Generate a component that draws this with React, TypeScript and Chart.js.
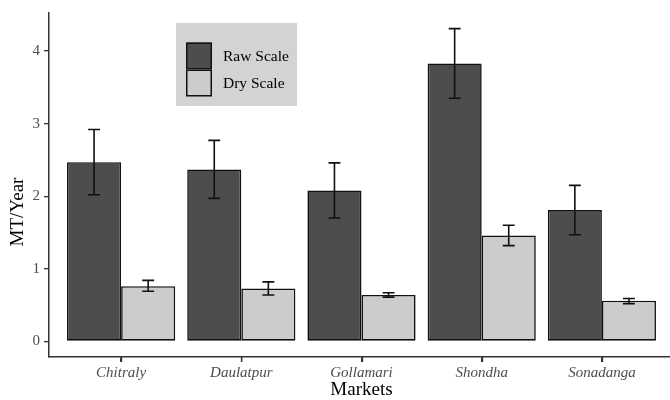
import React, { useEffect, useRef } from "react";
import { Chart, registerables } from "chart.js";

Chart.register(...registerables);

const categories: string[] = ["Chitraly", "Daulatpur", "Gollamari", "Shondha", "Sonadanga"];
const seriesNames: string[] = ["Raw Scale", "Dry Scale"];
const rawValues: number[] = [2.47, 2.37, 2.08, 3.83, 1.81];
const rawUpper: number[] = [2.92, 2.77, 2.46, 4.31, 2.15];
const rawLower: number[] = [2.02, 1.97, 1.70, 3.35, 1.47];
const dryValues: number[] = [0.76, 0.73, 0.64, 1.46, 0.56];
const dryUpper: number[] = [0.84, 0.82, 0.67, 1.60, 0.59];
const dryLower: number[] = [0.69, 0.64, 0.61, 1.32, 0.52];
const yTicks: number[] = [0, 1, 2, 3, 4];
const yTitle = "MT/Year";
const xTitle = "Markets";

const SERIF = "'Liberation Serif', 'Times New Roman', serif";
const AXIS = "#333333";

const errorBarPlugin = {
  id: "errorBars",
  afterDatasetsDraw(chart: any) {
    const ctx = chart.ctx;
    const yScale = chart.scales.y;
    const bounds = [
      [rawLower, rawUpper],
      [dryLower, dryUpper],
    ];
    ctx.save();
    ctx.strokeStyle = "#111111";
    ctx.lineWidth = 1.6;
    chart.data.datasets.forEach((_: any, di: number) => {
      const meta = chart.getDatasetMeta(di);
      meta.data.forEach((el: any, j: number) => {
        const lo = yScale.getPixelForValue(bounds[di][0][j]);
        const hi = yScale.getPixelForValue(bounds[di][1][j]);
        const half = el.width * 0.11;
        ctx.beginPath();
        ctx.moveTo(el.x, lo);
        ctx.lineTo(el.x, hi);
        ctx.moveTo(el.x - half, lo);
        ctx.lineTo(el.x + half, lo);
        ctx.moveTo(el.x - half, hi);
        ctx.lineTo(el.x + half, hi);
        ctx.stroke();
      });
    });
    ctx.restore();
  },
};

const axisExtrasPlugin = {
  id: "axisExtras",
  afterDraw(chart: any) {
    const ctx = chart.ctx;
    const area = chart.chartArea;
    const xScale = chart.scales.x;
    ctx.save();
    ctx.strokeStyle = AXIS;
    ctx.lineWidth = 1.3;
    xScale.ticks.forEach((t: any) => {
      const px = Math.round(xScale.getPixelForValue(t.value)) + 0.5;
      ctx.beginPath();
      ctx.moveTo(px, area.bottom);
      ctx.lineTo(px, area.bottom + 5);
      ctx.stroke();
    });
    ctx.fillStyle = "#000000";
    ctx.font = `19px ${SERIF}`;
    ctx.textAlign = "center";
    ctx.textBaseline = "middle";
    ctx.translate(18, area.top + 199);
    ctx.rotate(-Math.PI / 2);
    ctx.fillText(yTitle, 0, 0);
    ctx.restore();
  },
};

const legendBoxPlugin = {
  id: "legendBox",
  afterDraw(chart: any) {
    const ctx = chart.ctx;
    const area = chart.chartArea;
    const bx = area.left + 127;
    const by = area.top + 10;
    const bw = 121;
    const bh = 83;
    ctx.save();
    ctx.fillStyle = "#d3d3d3";
    ctx.fillRect(bx, by, bw, bh);
    const key = 27;
    const kx = bx + 10;
    const ky = by + 19.5;
    chart.data.datasets.forEach((ds: any, i: number) => {
      const y = ky + i * key;
      ctx.fillStyle = ds.backgroundColor;
      ctx.fillRect(kx, y, 26, key);
      ctx.strokeStyle = "#111111";
      ctx.lineWidth = 1.5;
      ctx.strokeRect(kx + 0.75, y + 0.75, 26 - 1.5, key - 1.5);
      ctx.fillStyle = "#000000";
      ctx.font = `15.5px ${SERIF}`;
      ctx.textBaseline = "middle";
      ctx.textAlign = "left";
      ctx.fillText(ds.label, kx + 37, y + key / 2 + 0.5);
    });
    ctx.restore();
  },
};

export default function App() {
  const canvasRef = useRef<HTMLCanvasElement | null>(null);

  useEffect(() => {
    if (!canvasRef.current) return;
    Chart.defaults.font.family = SERIF;
    const chart = new Chart(canvasRef.current, {
      type: "bar",
      data: {
        datasets: [
          {
            label: seriesNames[0],
            data: categories.map((_, i) => ({ x: i, y: rawValues[i] })),
            backgroundColor: "#4d4d4d",
            borderColor: "#111111",
            borderWidth: 1.6,
            borderSkipped: false,
            categoryPercentage: 0.9,
            barPercentage: 1,
          },
          {
            label: seriesNames[1],
            data: categories.map((_, i) => ({ x: i, y: dryValues[i] })),
            backgroundColor: "#cccccc",
            borderColor: "#111111",
            borderWidth: 1.6,
            borderSkipped: false,
            categoryPercentage: 0.9,
            barPercentage: 1,
          },
        ],
      },
      options: {
        animation: false,
        responsive: true,
        maintainAspectRatio: false,
        layout: { padding: { left: 0, right: 6, top: 13, bottom: 0 } },
        plugins: {
          legend: { display: false },
          tooltip: { enabled: false },
        },
        scales: {
          x: {
            type: "linear",
            min: -0.6,
            max: 4.6,
            offset: false,
            afterBuildTicks: (scale: any) => {
              scale.ticks = categories.map((_, i) => ({ value: i }));
            },
            afterFit: (scale: any) => {
              scale.height = 43;
            },
            ticks: {
              callback: (v: any) => categories[Math.round(Number(v))] ?? "",
              color: "#4d4d4d",
              font: { size: 15, style: "italic", family: SERIF },
              padding: 2,
              maxRotation: 0,
              autoSkip: false,
            },
            grid: {
              display: true,
              offset: false,
              drawOnChartArea: false,
              drawTicks: true,
              tickLength: 5,
              tickColor: AXIS,
              color: AXIS,
              lineWidth: 1.3,
            },
            border: { display: true, color: AXIS, width: 1.5 },
            title: {
              display: true,
              text: xTitle,
              color: "#000000",
              font: { size: 19, family: SERIF, lineHeight: 1.0 },
              padding: { top: 0, bottom: 0 },
            },
          },
          y: {
            min: -0.2155,
            max: 4.5255,
            afterBuildTicks: (scale: any) => {
              scale.ticks = yTicks.map((v) => ({ value: v }));
            },
            afterFit: (scale: any) => {
              scale.width = 49;
            },
            ticks: {
              color: "#4d4d4d",
              font: { size: 15, family: SERIF },
              padding: 4,
            },
            grid: {
              display: true,
              drawOnChartArea: false,
              drawTicks: true,
              tickLength: 5,
              color: AXIS,
              lineWidth: 1.3,
            },
            border: { display: true, color: AXIS, width: 1.5 },
            title: { display: false },
          },
        },
      },
      plugins: [errorBarPlugin, axisExtrasPlugin, legendBoxPlugin],
    } as any);
    return () => chart.destroy();
  }, []);

  return (
    <div style={{ position: "absolute", left: 0, top: 0, width: 670, height: 400, overflow: "hidden", background: "#ffffff" }}>
      <div style={{ position: "relative", width: 680, height: 400 }}>
        <canvas ref={canvasRef} />
      </div>
    </div>
  );
}
